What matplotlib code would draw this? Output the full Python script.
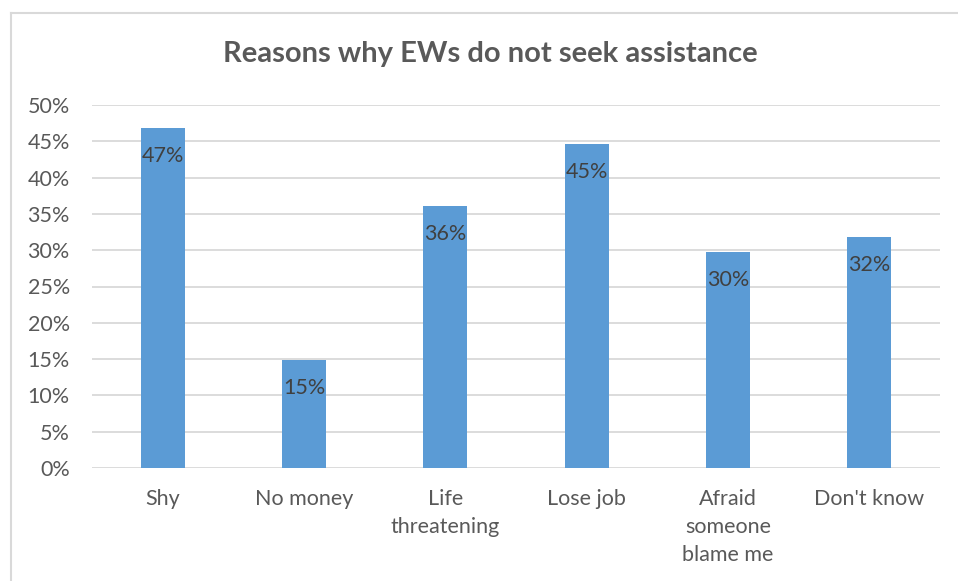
import matplotlib
matplotlib.use("Agg")
import matplotlib.pyplot as plt
from matplotlib.lines import Line2D
from matplotlib.ticker import FuncFormatter

categories = ["Shy", "No money", "Life\nthreatening", "Lose job",
              "Afraid\nsomeone\nblame me", "Don't know"]
values = [0.468, 0.149, 0.361, 0.446, 0.297, 0.318]
yticks = [0, 0.05, 0.10, 0.15, 0.20, 0.25, 0.30, 0.35, 0.40, 0.45, 0.50]

BAR = "#5b9bd5"
TXT = "#595959"
GRID = "#d9d9d9"

plt.rcParams["font.family"] = ["Lato", "DejaVu Sans"]

W, H = 958, 581
fig = plt.figure(figsize=(W / 100, H / 100), dpi=100)
ax = fig.add_axes([92 / W, 1 - 468 / H, (940 - 92) / W, (468 - 105) / H])

x = range(len(categories))
bars = ax.bar(x, values, width=0.31, color=BAR, zorder=2)
for b, v in zip(bars, values):
    ax.annotate(f"{v:.0%}", (b.get_x() + b.get_width() / 2, v),
                xytext=(0, -13), textcoords="offset points",
                ha="center", va="top", fontsize=15.5, color="#404040", zorder=3)

ax.set_xlim(-0.5, len(categories) - 0.5)
ax.set_ylim(0, 0.5)
ax.set_yticks(yticks)
ax.yaxis.set_major_formatter(FuncFormatter(lambda v, _: f"{v:.0%}"))
ax.set_xticks(list(x))
ax.set_xticklabels(categories, linespacing=1.5, va="top")
ax.tick_params(axis="both", length=0, labelsize=15.5, colors=TXT)
ax.tick_params(axis="x", pad=15)
ax.tick_params(axis="y", pad=16)
ax.grid(axis="y", color=GRID, linewidth=1.3, zorder=0)
ax.set_axisbelow(True)
for sp in ax.spines.values():
    sp.set_visible(False)

fig.text(490 / W, 1 - 54 / H, "Reasons why EWs do not seek assistance",
         ha="center", va="center", fontsize=21, fontweight="bold", color=TXT)

# chart border (clipped at right and bottom)
fig.add_artist(Line2D([10.5 / W, 10.5 / W], [0, 1 - 12.5 / H], color=GRID, lw=1.5))
fig.add_artist(Line2D([10.5 / W, 1], [1 - 12.5 / H, 1 - 12.5 / H], color=GRID, lw=1.5))

fig.savefig("out.png", dpi=100)
